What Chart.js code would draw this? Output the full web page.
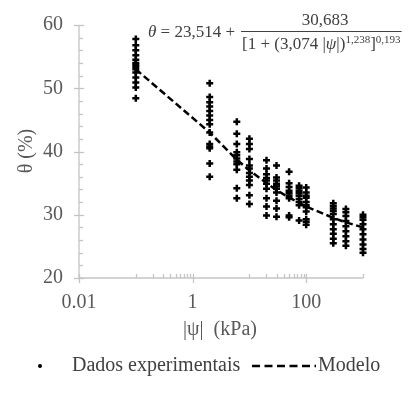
<!DOCTYPE html>
<html>
<head>
<meta charset="utf-8">
<script src="https://cdn.jsdelivr.net/npm/chart.js@4.4.0/dist/chart.umd.min.js"></script>
<style>
  body { margin: 0; background: #fff; }
  #wrap { width: 409px; height: 399px; position: relative; }
</style>
</head>
<body>
<div id="wrap"><canvas id="myChart"></canvas></div>
<script>
// |psi| levels (kPa) where soil water content was measured
const psiLevels = [0.1, 2, 6, 10, 20, 30, 50, 75, 100, 300, 500, 1000];

// measured theta (%) for each psi level
const thetaObs = [
    [57.8, 56.8, 56.0, 55.2, 54.5, 54.0, 53.7, 53.4, 53.0, 52.5, 51.7, 50.9, 50.1, 48.4],
    [50.8, 48.6, 47.8, 47.1, 46.4, 45.7, 45.0, 44.3, 43.0, 41.2, 40.8, 40.5, 38.1, 36.0],
    [44.7, 42.8, 41.2, 39.9, 39.4, 38.9, 38.4, 38.0, 37.1, 34.2, 32.6],
    [42.0, 41.2, 40.4, 38.8, 37.8, 37.3, 36.6, 36.0, 35.4, 34.7, 33.1, 31.7],
    [38.6, 37.3, 36.4, 35.8, 35.4, 34.9, 34.1, 32.6, 31.3, 29.9],
    [37.8, 35.9, 35.4, 34.9, 34.5, 34.1, 33.5, 32.2, 31.0, 29.7],
    [36.8, 35.0, 34.4, 33.8, 33.4, 33.0, 32.6, 29.9, 29.6],
    [34.6, 34.2, 33.8, 33.4, 33.0, 32.5, 32.0, 31.5, 29.1],
    [34.3, 33.5, 33.0, 32.7, 32.0, 31.5, 31.2, 30.5, 29.3, 28.9, 28.4],
    [31.8, 31.4, 31.0, 30.6, 30.1, 29.3, 28.5, 27.7, 27.0, 26.2, 25.5],
    [30.9, 30.4, 29.8, 29.0, 28.2, 27.4, 26.6, 25.8, 25.1],
    [30.0, 29.6, 29.2, 28.5, 27.7, 26.9, 26.1, 25.3, 24.6, 24.0]
];

// fitted van Genuchten model read at the same psi levels
const modelTheta = [53.0, 43.0, 38.7, 37.0, 35.0, 33.9, 32.7, 31.9, 31.3, 29.5, 28.8, 28.0];

const xTickLabels = [0.01, 1, 100];
const xMinorTicks = [0.1, 0.2, 0.3, 0.4, 0.5, 0.6, 0.7, 0.8, 0.9, 10, 20, 30, 40, 50, 60, 70, 80, 90, 1000];
const yTickLabels = [20, 30, 40, 50, 60];

const obsPoints = [];
psiLevels.forEach(function (p, i) {
    thetaObs[i].forEach(function (t) { obsPoints.push({ x: p, y: t }); });
});
const modelPoints = psiLevels.map(function (p, i) { return { x: p, y: modelTheta[i] }; });

const AXIS = '#c4c4c4';
const LABEL = '#595959';
const SERIF = '"Liberation Serif", "Times New Roman", serif';

function seg(ctx, x1, y1, x2, y2) {
    ctx.beginPath(); ctx.moveTo(x1, y1); ctx.lineTo(x2, y2); ctx.stroke();
}

const axesPlugin = {
    id: 'axes',
    beforeDatasetsDraw(chart) {
        const { ctx, chartArea: a, scales: { x, y } } = chart;
        ctx.save();
        ctx.strokeStyle = AXIS;
        ctx.lineWidth = 1.3;
        // y axis + ticks
        seg(ctx, a.left, a.top, a.left, a.bottom);
        for (let v = 20; v <= 60; v += 2) {
            const py = Math.round(y.getPixelForValue(v)) + 0.5;
            if (v % 10 === 0) seg(ctx, a.left - 5, py, a.left + 5, py);
            else seg(ctx, a.left, py, a.left + 4, py);
        }
        // x axis + ticks
        seg(ctx, a.left, a.bottom, a.right, a.bottom);
        xTickLabels.forEach(function (v) {
            const px = Math.round(x.getPixelForValue(v)) + 0.5;
            seg(ctx, px, a.bottom - 4, px, a.bottom + 5);
        });
        xMinorTicks.forEach(function (v) {
            const px = Math.round(x.getPixelForValue(v)) + 0.5;
            seg(ctx, px, a.bottom - 4, px, a.bottom);
        });

        // tick labels
        ctx.fillStyle = LABEL;
        ctx.font = '20px ' + SERIF;
        ctx.textAlign = 'right';
        ctx.textBaseline = 'middle';
        yTickLabels.forEach(function (v) {
            ctx.fillText(String(v), a.left - 16, y.getPixelForValue(v));
        });
        ctx.textAlign = 'center';
        xTickLabels.forEach(function (v) {
            ctx.fillText(String(v), x.getPixelForValue(v), 303);
        });

        // axis titles
        ctx.fillText('|\u03c8|  (kPa)', 220, 330);
        ctx.save();
        ctx.translate(27, 151);
        ctx.rotate(-Math.PI / 2);
        ctx.fillText('\u03b8 (%)', 0, 0);
        ctx.restore();
        ctx.restore();
    },
    afterDraw(chart) {
        const ctx = chart.ctx;
        ctx.save();
        // legend
        const ly = 366;
        ctx.fillStyle = '#000';
        ctx.beginPath(); ctx.arc(40, ly, 2, 0, Math.PI * 2); ctx.fill();
        ctx.fillStyle = '#404040';
        ctx.font = '20px ' + SERIF;
        ctx.textAlign = 'left';
        ctx.textBaseline = 'middle';
        ctx.fillText('Dados experimentais', 72, ly);
        ctx.strokeStyle = '#000';
        ctx.lineWidth = 2.5;
        ctx.setLineDash([8, 4.5]);
        seg(ctx, 252, ly, 316, ly);
        ctx.setLineDash([]);
        ctx.fillText('Modelo', 318, ly);

        // model equation
        ctx.fillStyle = '#404040';
        ctx.textBaseline = 'alphabetic';
        ctx.font = 'italic 17px ' + SERIF;
        ctx.fillText('\u03b8', 148, 37);
        let w = ctx.measureText('\u03b8').width;
        ctx.font = '17px ' + SERIF;
        ctx.fillText(' = 23,514 +', 148 + w, 37);
        // denominator
        const dx0 = 242;
        let dx = dx0;
        const parts = [
            ['[1 + (3,074 |', '17px ', 49, false],
            ['\u03c8', 'italic 17px ', 49, false],
            ['|)', '17px ', 49, false],
            ['1,238', '11px ', 43, true],
            [']', '17px ', 49, false],
            ['0,193', '11px ', 43, true]
        ];
        parts.forEach(function (p) {
            ctx.font = p[1] + SERIF;
            ctx.fillText(p[0], dx, p[2]);
            dx += ctx.measureText(p[0]).width;
        });
        ctx.strokeStyle = '#404040';
        ctx.lineWidth = 1;
        seg(ctx, dx0 - 1, 31.5, dx + 1, 31.5);
        ctx.font = '17px ' + SERIF;
        ctx.textAlign = 'center';
        ctx.fillText('30,683', 325, 25);
        ctx.restore();
    }
};

new Chart(document.getElementById('myChart'), {
    type: 'scatter',
    data: {
        datasets: [{
            label: 'Dados experimentais',
            data: obsPoints,
            pointStyle: 'cross',
            radius: 3.5,
            borderWidth: 2.5,
            borderColor: '#000',
            backgroundColor: '#000',
            clip: false
        }, {
            label: 'Modelo',
            data: modelPoints,
            showLine: true,
            pointRadius: 0,
            borderColor: '#000',
            borderWidth: 2.5,
            borderDash: [7, 3.5],
            clip: false
        }]
    },
    options: {
        responsive: true,
        maintainAspectRatio: false,
        animation: false,
        layout: { padding: { left: 79, right: 46, top: 25, bottom: 121 } },
        plugins: { legend: { display: false }, tooltip: { enabled: false } },
        scales: {
            x: { type: 'logarithmic', min: 0.01, max: 1000, display: false },
            y: { min: 20, max: 60, display: false }
        }
    },
    plugins: [axesPlugin]
});
</script>
</body>
</html>
